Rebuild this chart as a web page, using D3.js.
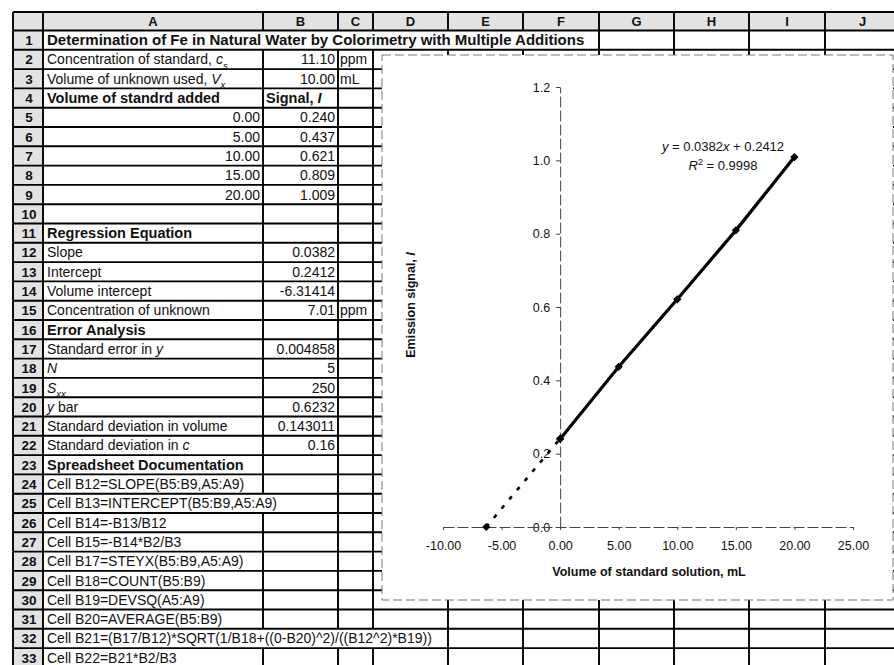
<!DOCTYPE html>
<html><head><meta charset="utf-8">
<script src="https://cdn.jsdelivr.net/npm/d3@7"></script>
<style>body{margin:0;background:#fff}svg{display:block}text{font-family:"Liberation Sans",Arial,sans-serif}</style>
</head><body><svg id="c" width="894" height="665"></svg>
<script>
// ---------------- data ----------------
const columnLetters = ["A","B","C","D","E","F","G","H","I","J"];
const volumes = [0, 5, 10, 15, 20];            // mL standard added
const signals = [0.240, 0.437, 0.621, 0.809, 1.009];
const extrapVolumes = [-6.31414, 0];           // dashed extrapolation to x-intercept
const extrapSignals = [0, 0.2412];
const xTicks = [-10, -5, 0, 5, 10, 15, 20, 25];
const yTicks = [0, 0.2, 0.4, 0.6, 0.8, 1.0, 1.2];
const equationLines = ["*y* = 0.0382*x* + 0.2412", "*R*^{2} = 0.9998"];
const xTitle = "Volume of standard solution, mL";
const yTitle = "Emission signal, *I*";

const labelsA = [
  "Determination of Fe in Natural Water by Colorimetry with Multiple Additions",
  "Concentration of standard, *c*_{s}",
  "Volume of unknown used, *V*_{x}",
  "Volume of standrd added",
  ...volumes.map(v => v.toFixed(2)),
  "",
  "Regression Equation",
  "Slope",
  "Intercept",
  "Volume intercept",
  "Concentration of unknown",
  "Error Analysis",
  "Standard error in *y*",
  "*N*",
  "*S*_{xx}",
  "*y* bar",
  "Standard deviation in volume",
  "Standard deviation in *c*",
  "Spreadsheet Documentation",
  "Cell B12=SLOPE(B5:B9,A5:A9)",
  "Cell B13=INTERCEPT(B5:B9,A5:A9)",
  "Cell B14=-B13/B12",
  "Cell B15=-B14*B2/B3",
  "Cell B17=STEYX(B5:B9,A5:A9)",
  "Cell B18=COUNT(B5:B9)",
  "Cell B19=DEVSQ(A5:A9)",
  "Cell B20=AVERAGE(B5:B9)",
  "Cell B21=(B17/B12)*SQRT(1/B18+((0-B20)^2)/((B12^2)*B19))",
  "Cell B22=B21*B2/B3"
];
const valuesB = [
  "", "11.10", "10.00", "Signal, *I*",
  ...signals.map(v => v.toFixed(3)),
  "", "", "0.0382", "0.2412", "-6.31414", "7.01", "",
  "0.004858", "5", "250", "0.6232", "0.143011", "0.16"
];
const unitsC = ["", "ppm", "mL", "", "", "", "", "", "", "", "", "", "", "", "ppm"];
const boldRows = [1, 4, 11, 16, 23];
const numericRowsA = [5, 6, 7, 8, 9];
const formulaRows = [24, 25, 26, 27, 28, 29, 30, 31, 32, 33];

// ---------------- layout ----------------
const W = 894, H = 665;
const svg = d3.select("#c");
svg.append("rect").attr("width", W).attr("height", H).attr("fill", "#fff");

const colEdges = [13, 43, 263, 338, 373, 448, 523, 599, 674, 749, 825, 900];
const headerTop = 12, headerBottom = 30.5, rowH = 19.3;
const rowTop = i => headerBottom + (i - 1) * rowH;
const FONT = 14, BOLDFONT = 14.5, TITLEFONT = 15;

const gray = "#e2e2e2";
svg.append("rect").attr("x", 13).attr("y", headerTop).attr("width", W - 13).attr("height", headerBottom - headerTop).attr("fill", gray);
svg.append("rect").attr("x", 13).attr("y", headerBottom).attr("width", 30).attr("height", H - headerBottom).attr("fill", gray);

const gridG = svg.append("g");
const textG = svg.append("g").attr("fill", "#111").attr("font-size", FONT);

function rich(sel, str, size, plain) {
  if (plain) { sel.text(str); return sel; }
  const parts = str.split(/(\*[^*]+\*|_\{[^}]+\}|\^\{[^}]+\})/).filter(s => s);
  let shift = 0;
  parts.forEach(p => {
    let t = p, italic = false, target = 0, fs = null;
    if (p.startsWith("*")) { t = p.slice(1, -1); italic = true; }
    else if (p.startsWith("_{")) { t = p.slice(2, -1); italic = true; target = size * 0.3; fs = size * 0.68; }
    else if (p.startsWith("^{")) { t = p.slice(2, -1); target = -size * 0.4; fs = size * 0.7; }
    const ts = sel.append("tspan").text(t);
    if (italic) ts.attr("font-style", "italic");
    if (fs) ts.attr("font-size", fs);
    if (target !== shift) { ts.attr("dy", target - shift); shift = target; }
  });
  return sel;
}

// header letters
columnLetters.forEach((L, k) => {
  textG.append("text").attr("x", (colEdges[k + 1] + colEdges[k + 2]) / 2).attr("y", (headerTop + headerBottom) / 2 + 5)
    .attr("text-anchor", "middle").attr("font-weight", "bold").attr("font-size", 13).text(L);
});

const hidden = {}; // row -> set of hidden edges
d3.range(1, 34).forEach(r => {
  const base = rowTop(r) + rowH / 2 + 5;
  const bold = boldRows.includes(r);
  textG.append("text").attr("x", 29).attr("y", base).attr("text-anchor", "middle").attr("font-weight", "bold").attr("font-size", 13.5).text(r);
  const a = labelsA[r - 1] || "";
  if (a) {
    if (numericRowsA.includes(r)) {
      textG.append("text").attr("x", colEdges[2] - 3).attr("y", base).attr("text-anchor", "end").text(a);
    } else {
      const t = textG.append("text").attr("x", colEdges[1] + 4).attr("y", base)
        .attr("font-weight", bold ? "bold" : null).attr("font-size", r === 1 ? TITLEFONT : bold ? BOLDFONT : FONT);
      rich(t, a, FONT, formulaRows.includes(r));
      const right = colEdges[1] + 4 + t.node().getComputedTextLength();
      hidden[r] = new Set(colEdges.filter(e => e > colEdges[1] + 1 && e < right + 3));
    }
  }
  const b = valuesB[r - 1] || "";
  if (b) {
    if (b.startsWith("Signal")) {
      rich(textG.append("text").attr("x", colEdges[2] + 3).attr("y", base).attr("font-weight", "bold").attr("font-size", BOLDFONT), b, BOLDFONT);
    } else {
      textG.append("text").attr("x", colEdges[3] - 3).attr("y", base).attr("text-anchor", "end").text(b);
    }
  }
  const c = unitsC[r - 1] || "";
  if (c) textG.append("text").attr("x", colEdges[3] + 2).attr("y", base).text(c);
});

// grid lines
const LW = 1.9;
const hb = [headerTop, headerBottom, ...d3.range(2, 35).map(rowTop)];
gridG.selectAll("line.h").data(hb).join("line").attr("x1", 13).attr("x2", W).attr("y1", d => d).attr("y2", d => d)
  .attr("stroke", "#000").attr("stroke-width", LW);
const vsegs = [];
colEdges.forEach(e => {
  vsegs.push({ x: e, y1: headerTop, y2: headerBottom });
  d3.range(1, 34).forEach(r => {
    if (hidden[r] && hidden[r].has(e)) return;
    vsegs.push({ x: e, y1: rowTop(r), y2: rowTop(r) + rowH });
  });
});
gridG.selectAll("line.v").data(vsegs).join("line").attr("x1", d => d.x).attr("x2", d => d.x).attr("y1", d => d.y1).attr("y2", d => d.y2)
  .attr("stroke", "#000").attr("stroke-width", LW);

// ---------------- chart ----------------
const chart = svg.append("g");
chart.append("rect").attr("x", 382).attr("y", 55).attr("width", 511).attr("height", 545)
  .attr("fill", "#fff").attr("stroke", "#777").attr("stroke-width", 1).attr("stroke-dasharray", "9,4");

const x = d3.scaleLinear().domain([-10, 25]).range([443, 853]);
const y = d3.scaleLinear().domain([0, 1.2]).range([527, 87]);

const CF = 12.5;
const gy = chart.append("g").attr("transform", `translate(${x(0)},0)`)
  .call(d3.axisLeft(y).tickValues(yTicks).tickFormat(d => d.toFixed(1)).tickSize(4).tickSizeOuter(0).tickPadding(6));
const gx = chart.append("g").attr("transform", `translate(0,${y(0)})`)
  .call(d3.axisBottom(x).tickValues(xTicks).tickFormat(d => d.toFixed(2)).tickSize(3).tickSizeOuter(0).tickPadding(11));
[gx, gy].forEach(g => {
  g.select(".domain").attr("stroke", "#444").attr("stroke-width", 1).attr("stroke-dasharray", "11,3");
  g.selectAll(".tick line").attr("stroke", "#444");
  g.selectAll(".tick text").attr("font-size", CF).attr("fill", "#111").attr("font-family", '"Liberation Sans",Arial,sans-serif');
});

chart.append("text").attr("x", 649).attr("y", 576).attr("text-anchor", "middle").attr("font-weight", "bold").attr("font-size", 12.5).attr("fill", "#111").text(xTitle);
rich(chart.append("text").attr("transform", "translate(415,305) rotate(-90)").attr("text-anchor", "middle")
  .attr("font-weight", "bold").attr("font-size", 12.5).attr("fill", "#111"), yTitle, 12.5);

equationLines.forEach((s, i) => {
  rich(chart.append("text").attr("x", 723).attr("y", 151 + i * 19).attr("text-anchor", "middle").attr("font-size", 13).attr("fill", "#111"), s, 13);
});

// dashed extrapolation
chart.append("path").datum(extrapSignals)
  .attr("d", d3.line().x((d, i) => x(extrapVolumes[i])).y(d => y(d)))
  .attr("fill", "none").attr("stroke", "#000").attr("stroke-width", 2.6).attr("stroke-dasharray", "4,8");
// data line
chart.append("path").datum(signals)
  .attr("d", d3.line().x((d, i) => x(volumes[i])).y(d => y(d)))
  .attr("fill", "none").attr("stroke", "#000").attr("stroke-width", 3.2);
// markers
const sym = d3.symbol().type(d3.symbolSquare).size(34);
const pts = [...volumes.map((v, i) => [v, signals[i]]), ...extrapVolumes.map((v, i) => [v, extrapSignals[i]])];
chart.selectAll("path.m").data(pts).join("path").attr("class", "m")
  .attr("transform", d => `translate(${x(d[0])},${y(d[1])}) rotate(45)`).attr("d", sym).attr("fill", "#000");
</script></body></html>
